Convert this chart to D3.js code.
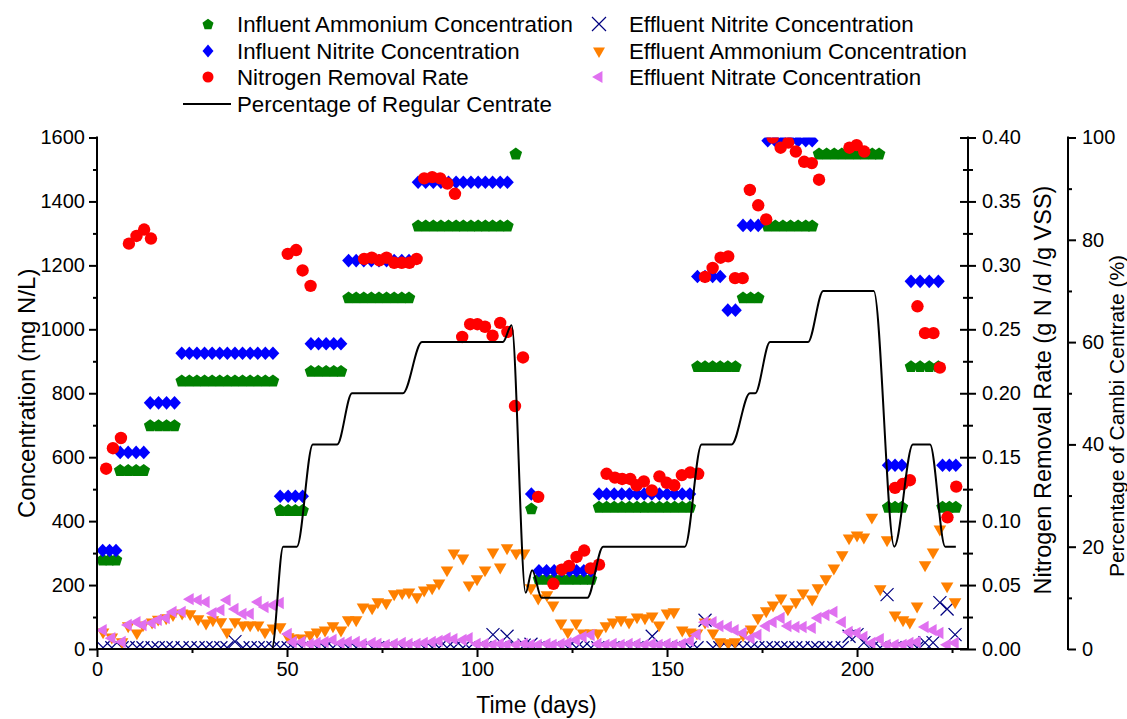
<!DOCTYPE html>
<html><head><meta charset="utf-8">
<script src="https://cdn.jsdelivr.net/npm/d3@7"></script>
<style>
body{margin:0;background:#fff}
svg{display:block}
text{font-family:"Liberation Sans",Arial,Helvetica,sans-serif;fill:#000}
</style>
</head><body>
<svg id="c" width="1127" height="719"></svg>
<script>
// ---------- DATA ----------
const inAmmDays = [1.5,3.3,5, 6.1,8.2,10.3,12.3, 14,16.2,18.3,20.4,
  22.3,24.3,26.3,28.3,30.3,32.3,34.3,36.3,38.3,40.3,42.3,44.3,46.3,
  48.2,50.3,52.2,54.1, 56.3,58.3,60.3,62.3,64.2,
  66.2,68.2,70.2,72.2,74.2,76.2,78.2,80.2,82.1,
  84.5,86.5,88.5,90.5,92.5,94.5,96.4,98.4,100.3,102.2,104.1,106.1,108,
  110.2, 114.3,
  116.3,118.3,120.3,122.3,124.3,126.2,128.1,130,
  132.1,134.1,136.1,138.1,140.1,142.1,144,146,148,150,152,154,156,
  158,160,162,164,166,168, 170,172,174,
  176.5,178.5,180.5,182.5,184.5,186.5,188.2,
  190,192,194,196,198,200,202,204,205.8,
  208.2,210,211.8, 214.2,216.6,219,221.4, 222.5,224.3,226];
const inAmmValues = [280,280,280, 560,560,560,560, 700,700,700,700,
  840,840,840,840,840,840,840,840,840,840,840,840,840,
  435,435,435,435, 870,870,870,870,870,
  1100,1100,1100,1100,1100,1100,1100,1100,1100,
  1325,1325,1325,1325,1325,1325,1325,1325,1325,1325,1325,1325,1325,
  1550, 440,
  220,220,220,220,220,220,220,220,
  445,445,445,445,445,445,445,445,445,445,445,445,445,
  885,885,885,885,885,885, 1100,1100,1100,
  1325,1325,1325,1325,1325,1325,1325,
  1550,1550,1550,1550,1550,1550,1550,1550,1550,
  445,445,445, 885,885,885,885, 445,445,445];

const inNitDays = [1.5,3.3,5, 6.1,8.2,10.3,12.3, 14,16.2,18.3,20.4,
  22.3,24.3,26.3,28.3,30.3,32.3,34.3,36.3,38.3,40.3,42.3,44.3,46.3,
  48.2,50.3,52.2,54.1, 56.3,58.3,60.3,62.3,64.2,
  66.2,68.2,70.2,72.2,74.2,76.2,78.2,80.2,82.1,
  84.5,86.5,88.5,90.5,92.5,94.5,96.4,98.4,100.3,102.2,104.1,106.1,108,
  114.3,
  116.3,118.3,120.3,122.3,124.3,126.2,128.1,130,
  132.1,134.1,136.1,138.1,140.1,142.1,144,146,148,150,152,154,156,
  158,160,162,164, 166,168, 170,172,174,
  176.5,178.5,180.5,182.5,184.5,186.5,188.2,
  208.2,210,211.8, 214.2,216.6,219,221.4, 222.5,224.3,226];
const inNitValues = [308,308,308, 615,615,615,615, 770,770,770,770,
  925,925,925,925,925,925,925,925,925,925,925,925,925,
  478,478,478,478, 955,955,955,955,955,
  1215,1215,1215,1215,1215,1215,1215,1215,1215,
  1460,1460,1460,1460,1460,1460,1460,1460,1460,1460,1460,1460,1460,
  485,
  245,245,245,245,245,245,245,245,
  485,485,485,485,485,485,485,485,485,485,485,485,485,
  1165,1165,1165,1165, 1060,1060, 1325,1325,1325,
  1590,1590,1590,1590,1590,1590,1590,
  575,575,575, 1150,1150,1150,1150, 575,575,575];

const nrrDays = [2.4,4.2,6.3,8.4,10.4,12.4,14.2,50.2,52.4,54.1,56.2,
  70.3,72.3,74.3,76.2,78.2,80.2,82.2,84.1,86.1,88.2,90.3,92.2,94.2,
  96.1,98.2,100.1,102.1,104.1,106.1,108,110,112.1,116.1,
  120.1,122.3,124.2,126.2,128.2,129.9,132.1,
  134.1,136.3,138.2,140.3,142,143.9,146,148,149.9,151.9,153.9,156.1,158.2,
  160,162,164.1,166.1,167.9,169.9,171.8,174,176.1,
  177.8,179.9,181.9,183.9,186.1,188.1,190,198,199.9,201.9,
  210,212,213.9,215.9,217.9,220.1,221.8,223.8,226.1];
const nrrValues = [0.141,0.157,0.165,0.317,0.323,0.328,0.321,0.309,0.312,0.296,0.284,
  0.305,0.306,0.304,0.306,0.302,0.302,0.302,0.305,0.368,0.369,0.368,0.364,0.356,
  0.244,0.254,0.254,0.252,0.245,0.255,0.248,0.190,0.228,0.119,
  0.051,0.062,0.065,0.072,0.077,0.063,0.066,
  0.137,0.134,0.133,0.133,0.128,0.131,0.124,0.135,0.130,0.128,0.136,0.138,0.137,
  0.291,0.298,0.306,0.307,0.290,0.290,0.359,0.347,0.336,
  0.400,0.392,0.396,0.389,0.381,0.380,0.367,0.392,0.394,0.389,
  0.126,0.129,0.132,0.268,0.247,0.247,0.220,0.103,0.127];

const effDays = [1.6,3.9,6.6,8.2,10.5,12.1,14.5,16.1,18.2,20.0,
  22.4,24.5,26.6,28.7,30.5,32.6,34.2,36.3,38.4,40.3,
  42.4,44.2,46.3,48.2,50.3,51.6,53.9,56.1,57.9,60.0,
  62.1,64.2,66.1,68.2,70.0,72.4,73.9,76.1,78.2,80.3,
  82.1,84.2,86.1,88.2,90.0,92.1,93.9,96.3,97.9,100.0,
  102.1,104.2,106.1,107.9,110.3,112.4,114.2,116.1,118.4,120.0,
  122.1,123.9,126.1,127.9,130.0,131.8,133.9,135.8,137.9,140.0,
  142.1,144.2,146.1,147.9,150.0,151.8,154.0,156.1,157.9,160.0,
  162.1,163.9,166.1,167.9,170.0,172.1,173.9,176.1,177.9,180.0,
  181.8,183.9,185.8,188.2,189.7,191.8,193.9,196.1,197.9,200.0,
  201.8,203.9,206.1,207.9,210.0,212.1,213.9,215.8,217.9,220.0,
  221.8,223.7,225.8];
const effAmmonium = [53,37,22,72,50,75,84,93,97,107,
  112,110,94,81,91,85,53,85,75,75,
  75,53,65,69,38,34,34,44,53,59,
  72,59,91,91,131,128,147,144,172,175,
  178,163,184,191,206,247,300,284,200,219,
  247,303,256,316,300,300,191,159,169,137,
  81,53,81,50,50,50,72,84,91,84,
  100,97,103,75,112,116,59,53,50,84,
  50,22,19,22,44,62,97,119,137,159,
  125,147,175,156,191,219,253,294,347,356,
  350,412,188,341,106,91,84,134,263,303,
  375,197,147];
const effNitrite = [4,4,4,4,4,4,4,4,4,4,
  4,4,4,4,4,4,4,23,4,4,
  4,4,4,4,4,4,4,4,4,4,
  4,4,4,4,4,4,4,4,4,4,
  4,4,4,4,4,4,4,4,4,4,
  4,45,4,40,4,12,15,4,4,4,
  4,4,4,4,4,4,4,4,4,4,
  4,4,40,4,4,4,4,4,4,90,
  4,4,4,4,4,4,4,4,4,4,
  4,4,4,4,4,4,4,4,40,45,
  20,4,4,170,4,4,4,4,20,20,
  145,125,45];
const effNitrate = [59,34,22,75,84,75,81,91,97,116,
  116,156,153,147,112,122,153,125,110,110,
  147,131,137,144,47,22,22,16,19,22,
  28,19,22,22,16,19,16,13,16,19,
  16,16,19,22,25,34,31,28,34,16,
  16,13,16,13,13,16,13,13,16,13,
  16,19,28,38,44,16,13,16,13,16,
  16,13,16,13,16,13,16,25,45,84,
  84,72,69,59,50,34,44,72,84,97,
  72,69,69,66,97,106,116,84,53,50,
  38,19,31,13,13,13,19,22,69,59,
  50,13,19];

const pctDays = [0,46,49,52.6,56.8,63.2,67.1,80.5,85.5,106.8,109.1,112.8,114.5,117,129,
  133.2,154.7,159.1,167,171.8,173.2,177.1,187.1,191.1,204.4,209.8,214.7,219.2,223.2,226];
const pctValues = [0,0,20,20,40,40,50,50,60,60,63.3,11,15.4,10,10,
  20,20,40,40,50,50,60,60,70,70,20,40,40,20,20];

const xTicks = [0,50,100,150,200];
const xMinor = [25,75,125,175,225];
const concTicks = [0,200,400,600,800,1000,1200,1400,1600];
const concMinor = [100,300,500,700,900,1100,1300,1500];
const nrrTicks = [0,0.05,0.10,0.15,0.20,0.25,0.30,0.35,0.40];
const nrrMinor = [0.025,0.075,0.125,0.175,0.225,0.275,0.325,0.375];
const pctTicks = [0,20,40,60,80,100];
const pctMinor = [10,30,50,70,90];

const legendLabels = ["Influent Ammonium Concentration","Influent Nitrite Concentration",
  "Nitrogen Removal Rate","Percentage of Regular Centrate",
  "Effluent Nitrite Concentration","Effluent Ammonium Concentration","Effluent Nitrate Concentration"];

// ---------- LAYOUT ----------
const X0=97, X1=968, YT=137.5, YB=649, XP=1068;
const C = {green:"#008000", blue:"#0000FF", red:"#FF0000", navy:"#000080", orange:"#FF8000", violet:"#E070F0"};

const svg = d3.select("#c");
const x = d3.scaleLinear().domain([0,229.2]).range([X0,X1]);
const yC = d3.scaleLinear().domain([0,1600]).range([YB,YT]);
const yR = d3.scaleLinear().domain([0,0.4]).range([YB,YT]);
const yP = d3.scaleLinear().domain([0,100]).range([YB,YT]);

// symbol paths
function poly(pts){return "M"+pts.map(p=>p[0].toFixed(2)+","+p[1].toFixed(2)).join("L")+"Z";}
const pentagon = r => poly(d3.range(5).map(i=>{const a=-Math.PI/2+i*2*Math.PI/5;return [r*Math.cos(a), r*Math.sin(a)+r*0.1];}));
const diamond = (w,h) => poly([[0,-h],[w,0],[0,h],[-w,0]]);
const triDown = s => poly([[-s,-s*0.577],[s,-s*0.577],[0,s*1.155]]);
const triLeft = s => poly([[-s*1.155,0],[s*0.577,-s],[s*0.577,s]]);
const cross = s => `M${-s},${-s}L${s},${s}M${-s},${s}L${s},${-s}`;

svg.append("defs").append("clipPath").attr("id","clip")
  .append("rect").attr("x",X0).attr("y",YT).attr("width",X1-X0).attr("height",YB-YT);
const g = svg.append("g").attr("clip-path","url(#clip)");

function scatter(days, vals, ys, path, fill, stroke, sw){
  g.append("g").selectAll("path").data(d3.zip(days, vals)).join("path")
    .attr("transform", d=>`translate(${x(d[0])},${ys(d[1])})`)
    .attr("d", path)
    .attr("fill", fill).attr("stroke", stroke||"none").attr("stroke-width", sw||0);
}
scatter(inAmmDays, inAmmValues, yC, pentagon(6.6), C.green);
scatter(inNitDays, inNitValues, yC, diamond(6.4,6.8), C.blue);
scatter(effDays, effNitrite, yC, cross(6.5), "none", C.navy, 1.2);
scatter(effDays, effAmmonium, yC, triDown(6.3), C.orange);
scatter(effDays, effNitrate, yC, triLeft(6.2), C.violet);
g.append("g").selectAll("circle").data(d3.zip(nrrDays, nrrValues)).join("circle")
  .attr("cx", d=>x(d[0])).attr("cy", d=>yR(d[1])).attr("r",6.2).attr("fill",C.red);
g.append("path").datum(d3.zip(pctDays, pctValues))
  .attr("d", d3.line().x(d=>x(d[0])).y(d=>yP(d[1])).curve(d3.curveMonotoneX))
  .attr("fill","none").attr("stroke","#000").attr("stroke-width",2);

// ---------- AXES ----------
function style(sel){
  sel.selectAll(".domain").remove();
  sel.selectAll("line").attr("stroke","#000").attr("stroke-width",2);
  sel.selectAll("text").style("font-size","20px").attr("fill","#000");
}
// bottom
svg.append("g").attr("transform",`translate(0,${YB})`)
  .call(d3.axisBottom(x).tickValues(xTicks).tickFormat(d3.format("d")).tickSize(8).tickPadding(5)).call(style);
svg.append("g").attr("transform",`translate(0,${YB})`)
  .call(d3.axisBottom(x).tickValues(xMinor).tickFormat("").tickSize(4)).call(style);
// left
svg.append("g").attr("transform",`translate(${X0},0)`)
  .call(d3.axisLeft(yC).tickValues(concTicks).tickFormat(d3.format("d")).tickSize(8).tickPadding(4)).call(style);
svg.append("g").attr("transform",`translate(${X0},0)`)
  .call(d3.axisLeft(yC).tickValues(concMinor).tickFormat("").tickSize(4)).call(style);
// NRR right (crossing ticks)
const ar = svg.append("g").attr("transform",`translate(${X1},0)`)
  .call(d3.axisRight(yR).tickValues(nrrTicks).tickFormat(d3.format(".2f")).tickSize(8).tickPadding(6)).call(style);
ar.selectAll("line").attr("x1",-8);
const arm = svg.append("g").attr("transform",`translate(${X1},0)`)
  .call(d3.axisRight(yR).tickValues(nrrMinor).tickFormat("").tickSize(5)).call(style);
arm.selectAll("line").attr("x1",-5);
// percent axis
svg.append("g").attr("transform",`translate(${XP},0)`)
  .call(d3.axisRight(yP).tickValues(pctTicks).tickFormat(d3.format("d")).tickSize(8).tickPadding(6)).call(style);
svg.append("g").attr("transform",`translate(${XP},0)`)
  .call(d3.axisRight(yP).tickValues(pctMinor).tickFormat("").tickSize(4)).call(style);

// axis lines
const axl = svg.append("g").attr("stroke","#000").attr("stroke-width",2).attr("stroke-linecap","square");
axl.append("line").attr("x1",X0).attr("x2",X1).attr("y1",YB).attr("y2",YB);
axl.append("line").attr("x1",X0).attr("x2",X0).attr("y1",YT).attr("y2",YB);
axl.append("line").attr("x1",X1).attr("x2",X1).attr("y1",YT).attr("y2",YB);
axl.append("line").attr("x1",XP).attr("x2",XP).attr("y1",YT).attr("y2",YB);

// titles
svg.append("text").attr("transform",`translate(26,${(YT+YB)/2}) rotate(-90)`)
  .attr("text-anchor","middle").attr("dominant-baseline","central").style("font-size","24px").text("Concentration (mg N/L)");
svg.append("text").attr("x",(X0+X1)/2+4).attr("y",713).attr("text-anchor","middle").style("font-size","23px").text("Time (days)");
svg.append("text").attr("transform",`translate(1043,390) rotate(-90)`)
  .attr("text-anchor","middle").attr("dominant-baseline","central").style("font-size","23.5px").text("Nitrogen Removal Rate (g N /d /g VSS)");
svg.append("text").attr("transform",`translate(1116,416) rotate(-90)`)
  .attr("text-anchor","middle").attr("dominant-baseline","central").style("font-size","21px").text("Percentage of Cambi Centrate (%)");

// ---------- LEGEND ----------
const lg = svg.append("g");
const rows = [24,51,77,104];
function ltext(tx, ty, s){ lg.append("text").attr("x",tx).attr("y",ty+8).style("font-size","22.3px").text(s); }
lg.append("path").attr("transform",`translate(208,${rows[0]})`).attr("d",pentagon(5.8)).attr("fill",C.green);
ltext(237,rows[0],legendLabels[0]);
lg.append("path").attr("transform",`translate(208,${rows[1]})`).attr("d",diamond(5.5,6.5)).attr("fill",C.blue);
ltext(237,rows[1],legendLabels[1]);
lg.append("circle").attr("cx",208).attr("cy",rows[2]).attr("r",5.5).attr("fill",C.red);
ltext(237,rows[2],legendLabels[2]);
lg.append("line").attr("x1",183).attr("x2",231).attr("y1",rows[3]).attr("y2",rows[3]).attr("stroke","#000").attr("stroke-width",2);
ltext(237,rows[3],legendLabels[3]);
lg.append("path").attr("transform",`translate(599,${rows[0]})`).attr("d",cross(7)).attr("fill","none").attr("stroke",C.navy).attr("stroke-width",1.2);
ltext(629,rows[0],legendLabels[4]);
lg.append("path").attr("transform",`translate(599,${rows[1]})`).attr("d",triDown(6)).attr("fill",C.orange);
ltext(629,rows[1],legendLabels[5]);
lg.append("path").attr("transform",`translate(599,${rows[2]})`).attr("d",triLeft(6)).attr("fill",C.violet);
ltext(629,rows[2],legendLabels[6]);
</script>
</body></html>
